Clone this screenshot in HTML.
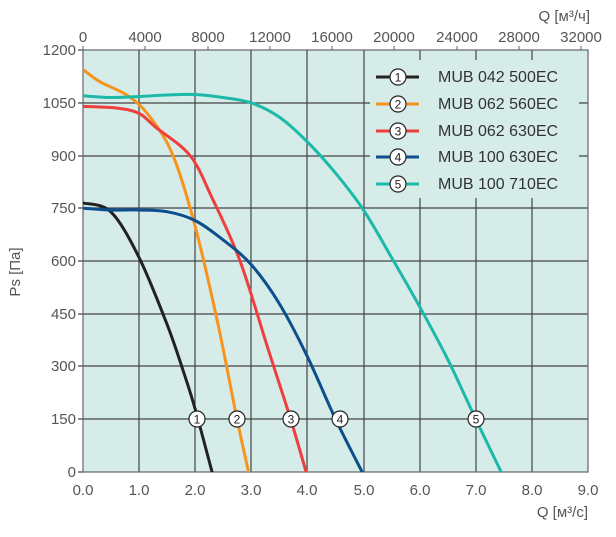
<!DOCTYPE html>
<html><head><meta charset="utf-8"><style>
body{margin:0;background:#fff}
svg text{font-family:"Liberation Sans",sans-serif;fill:#555;font-size:14px}
</style></head><body>
<svg id="s" width="616" height="532" viewBox="0 0 616 532">
<defs><clipPath id="c"><rect x="83" y="50" width="505" height="422"/></clipPath></defs>
<rect x="83" y="50" width="505" height="422" fill="#d5ece8"/>
<g stroke="#444" stroke-width="1.2">
<line x1="139" y1="50" x2="139" y2="472"/><line x1="195" y1="50" x2="195" y2="472"/>
<line x1="251" y1="50" x2="251" y2="472"/><line x1="307" y1="50" x2="307" y2="472"/>
<line x1="364" y1="50" x2="364" y2="472"/><line x1="420" y1="50" x2="420" y2="472"/>
<line x1="476" y1="50" x2="476" y2="472"/><line x1="532" y1="50" x2="532" y2="472"/>
<line x1="78" y1="103" x2="588" y2="103"/><line x1="78" y1="156" x2="588" y2="156"/>
<line x1="78" y1="208" x2="588" y2="208"/><line x1="78" y1="261" x2="588" y2="261"/>
<line x1="78" y1="314" x2="588" y2="314"/><line x1="78" y1="366" x2="588" y2="366"/>
<line x1="78" y1="419" x2="588" y2="419"/>
<line x1="78" y1="50" x2="83" y2="50"/><line x1="78" y1="472" x2="83" y2="472"/>
</g>
<g stroke="#666" stroke-width="1">
<line x1="83" y1="46" x2="83" y2="50"/><line x1="145" y1="46" x2="145" y2="50"/><line x1="208" y1="46" x2="208" y2="50"/><line x1="270" y1="46" x2="270" y2="50"/><line x1="332" y1="46" x2="332" y2="50"/><line x1="394" y1="46" x2="394" y2="50"/><line x1="457" y1="46" x2="457" y2="50"/><line x1="519" y1="46" x2="519" y2="50"/><line x1="581" y1="46" x2="581" y2="50"/>
</g>
<rect x="83" y="50" width="505" height="422" fill="none" stroke="#666" stroke-width="1.2"/>
<rect x="370" y="60" width="209" height="138" fill="#d5ece8"/>
<g id="curves" clip-path="url(#c)" fill="none" stroke-width="3" stroke-linejoin="round" stroke-linecap="round">
<polyline stroke="#222" points="83,203 111,212 139,257.4 167,324.2 184,373.3 195,408.5 212,471.7"/>
<polyline stroke="#f7941e" points="83,69.5 100,81.8 128,95.8 150,116.9 173,155.5 195,225.8 218,324.2 237,419 248.5,471.7"/>
<polyline stroke="#ef3e3e" points="83,106.4 117,108.1 139,113.4 156,127.5 190,155.5 212,197.7 240,260.9 268,348.7 290.6,419 306,471.7"/>
<polyline stroke="#0b4f8e" points="83,208.2 111,210 139,210 167,211.7 195,220.5 223,239.8 251,264.4 279,303.1 307,355.8 335.5,419 362,471.7"/>
<polyline stroke="#1db9a8" points="83,95.8 111,97.5 139,96.5 167,95 195,94.5 223,97.5 251,102.8 279,116.9 307,141.5 335.5,173.1 363.5,210 391.5,257.4 419.6,306.6 447.7,359.3 475.7,419 501,471.7"/>
</g>
<g stroke="#222" stroke-width="1.2" fill="#fff">
<circle cx="197" cy="419" r="8"/><circle cx="237" cy="419" r="8"/><circle cx="291" cy="419" r="8"/><circle cx="340" cy="419" r="8"/><circle cx="476" cy="419" r="8"/>
</g>
<g text-anchor="middle">
<text x="197" y="423.5" style="fill:#222;font-size:12px">1</text><text x="237" y="423.5" style="fill:#222;font-size:12px">2</text><text x="291" y="423.5" style="fill:#222;font-size:12px">3</text><text x="340" y="423.5" style="fill:#222;font-size:12px">4</text><text x="476" y="423.5" style="fill:#222;font-size:12px">5</text>
</g>
<g stroke-width="3">
<line x1="376" y1="77" x2="419" y2="77" stroke="#222"/><line x1="376" y1="104" x2="419" y2="104" stroke="#f7941e"/><line x1="376" y1="131" x2="419" y2="131" stroke="#ef3e3e"/><line x1="376" y1="157" x2="419" y2="157" stroke="#0b4f8e"/><line x1="376" y1="184" x2="419" y2="184" stroke="#1db9a8"/>
</g>
<g stroke="#222" stroke-width="1.2" fill="#fff">
<circle cx="398" cy="77" r="8"/><circle cx="398" cy="104" r="8"/><circle cx="398" cy="131" r="8"/><circle cx="398" cy="157" r="8"/><circle cx="398" cy="184" r="8"/>
</g>
<g text-anchor="middle">
<text x="398" y="81.5" style="fill:#222;font-size:12px">1</text><text x="398" y="108.5" style="fill:#222;font-size:12px">2</text><text x="398" y="135.5" style="fill:#222;font-size:12px">3</text><text x="398" y="161.5" style="fill:#222;font-size:12px">4</text><text x="398" y="188.5" style="fill:#222;font-size:12px">5</text>
</g>
<g>
<text x="438" y="82" style="fill:#333;font-size:16px">MUB 042 500EC</text>
<text x="438" y="109" style="fill:#333;font-size:16px">MUB 062 560EC</text>
<text x="438" y="136" style="fill:#333;font-size:16px">MUB 062 630EC</text>
<text x="438" y="162" style="fill:#333;font-size:16px">MUB 100 630EC</text>
<text x="438" y="189" style="fill:#333;font-size:16px">MUB 100 710EC</text>
</g>
<g text-anchor="end">
<text x="76" y="55" style="font-size:15px">1200</text><text x="76" y="108" style="font-size:15px">1050</text><text x="76" y="161" style="font-size:15px">900</text><text x="76" y="213" style="font-size:15px">750</text><text x="76" y="266" style="font-size:15px">600</text><text x="76" y="319" style="font-size:15px">450</text><text x="76" y="371" style="font-size:15px">300</text><text x="76" y="424" style="font-size:15px">150</text><text x="76" y="477" style="font-size:15px">0</text>
</g>
<g text-anchor="middle">
<text x="83" y="495" style="font-size:15px">0.0</text><text x="139" y="495" style="font-size:15px">1.0</text><text x="195" y="495" style="font-size:15px">2.0</text><text x="251" y="495" style="font-size:15px">3.0</text><text x="307" y="495" style="font-size:15px">4.0</text><text x="364" y="495" style="font-size:15px">5.0</text><text x="420" y="495" style="font-size:15px">6.0</text><text x="476" y="495" style="font-size:15px">7.0</text><text x="532" y="495" style="font-size:15px">8.0</text><text x="588" y="495" style="font-size:15px">9.0</text>
<text x="83" y="42" style="font-size:15px">0</text><text x="145" y="42" style="font-size:15px">4000</text><text x="208" y="42" style="font-size:15px">8000</text><text x="270" y="42" style="font-size:15px">12000</text><text x="332" y="42" style="font-size:15px">16000</text><text x="394" y="42" style="font-size:15px">20000</text><text x="457" y="42" style="font-size:15px">24000</text><text x="519" y="42" style="font-size:15px">28000</text><text x="581" y="42" style="font-size:15px">32000</text>
</g>
<text x="588" y="517" text-anchor="end" style="font-size:15px">Q [м³/с]</text>
<text x="590" y="21" text-anchor="end" style="font-size:15px">Q [м³/ч]</text>
<text transform="translate(20,272) rotate(-90)" text-anchor="middle" style="font-size:15px">Ps [Па]</text>
</svg>
<script>
(function(){
var ns="http://www.w3.org/2000/svg";
var ps=document.querySelectorAll("#curves polyline");
for(var i=0;i<ps.length;i++){
var pl=ps[i];var pts=pl.getAttribute("points").trim().split(/\s+/).map(function(s){return s.split(",").map(Number);});
var d="M"+pts[0][0]+","+pts[0][1];
for(var k=0;k<pts.length-1;k++){
var p0=pts[Math.max(k-1,0)],p1=pts[k],p2=pts[k+1],p3=pts[Math.min(k+2,pts.length-1)];
var c1x=p1[0]+(p2[0]-p0[0])/6,c1y=p1[1]+(p2[1]-p0[1])/6,c2x=p2[0]-(p3[0]-p1[0])/6,c2y=p2[1]-(p3[1]-p1[1])/6;
d+=" C"+c1x+","+c1y+" "+c2x+","+c2y+" "+p2[0]+","+p2[1];}
var path=document.createElementNS(ns,"path");path.setAttribute("d",d);path.setAttribute("stroke",pl.getAttribute("stroke"));
pl.parentNode.replaceChild(path,pl);}
})();
</script>
</body></html>
